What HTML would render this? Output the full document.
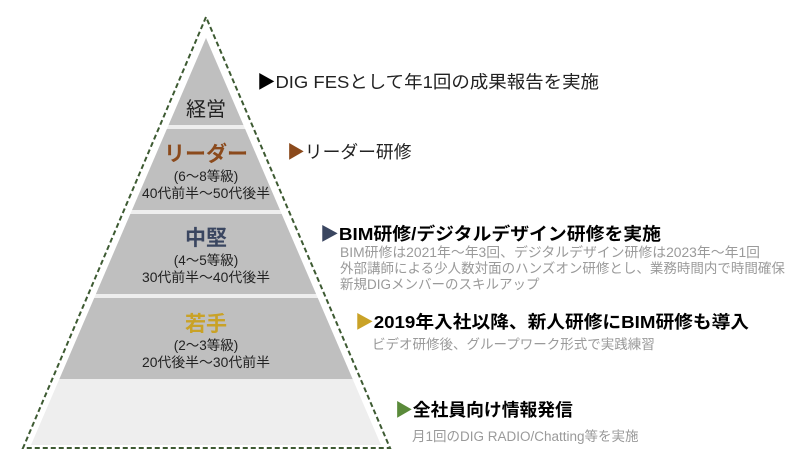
<!DOCTYPE html>
<html><head><meta charset="utf-8"><style>
html,body{margin:0;padding:0;background:#fff;width:811px;height:465px;overflow:hidden}
text{font-family:"Liberation Sans","Noto Sans CJK JP",sans-serif}
</style></head><body>
<svg width="811" height="465" viewBox="0 0 811 465" xmlns="http://www.w3.org/2000/svg">
<defs><clipPath id="c"><polygon points="206,38 31,445 381,445"/></clipPath></defs>
<g clip-path="url(#c)">
<rect x="0" y="0" width="811" height="465" fill="#eeeeee"/>
<rect x="0" y="38" width="811" height="87" fill="#bfbfbf"/>
<rect x="0" y="129" width="811" height="81" fill="#bfbfbf"/>
<rect x="0" y="214" width="811" height="80" fill="#bfbfbf"/>
<rect x="0" y="298" width="811" height="81" fill="#bfbfbf"/>
</g>
<polygon points="206,17 23,448 390,448" fill="none" stroke="#3d5a32" stroke-width="2" stroke-dasharray="5,3"/>
<g text-anchor="middle" fill="#222">
<text x="206" y="116" font-size="20">経営</text>
<text x="206" y="161" font-size="21" fill="#8b4a1c" font-weight="bold">リーダー</text>
<text x="206" y="181" font-size="13.5">(6〜8等級)</text>
<text x="206" y="198" font-size="13.5" textLength="128" lengthAdjust="spacingAndGlyphs">40代前半〜50代後半</text>
<text x="206" y="245" font-size="21" fill="#3a4660" font-weight="bold">中堅</text>
<text x="206" y="265" font-size="13.5">(4〜5等級)</text>
<text x="206" y="282" font-size="13.5" textLength="128" lengthAdjust="spacingAndGlyphs">30代前半〜40代後半</text>
<text x="206" y="331" font-size="21" fill="#c9a227" font-weight="bold">若手</text>
<text x="206" y="350" font-size="13.5">(2〜3等級)</text>
<text x="206" y="367" font-size="13.5" textLength="128" lengthAdjust="spacingAndGlyphs">20代後半〜30代前半</text>
</g>
<g font-size="17.8" fill="#222">
<text x="257" y="88" textLength="342" lengthAdjust="spacingAndGlyphs"><tspan fill="#000">▶</tspan>DIG FESとして年1回の成果報告を実施</text>
<text x="287" y="158"><tspan fill="#8b4a1c">▶</tspan>リーダー研修</text>
<text x="320" y="240" font-weight="bold" fill="#000" textLength="341" lengthAdjust="spacingAndGlyphs"><tspan fill="#3a4660">▶</tspan>BIM研修/デジタルデザイン研修を実施</text>
<text x="355" y="328" font-weight="bold" fill="#000" textLength="394" lengthAdjust="spacingAndGlyphs"><tspan fill="#c9a227">▶</tspan>2019年入社以降、新人研修にBIM研修も導入</text>
<text x="395" y="416" font-weight="bold" fill="#000"><tspan fill="#5a8a3a">▶</tspan>全社員向け情報発信</text>
</g>
<g font-size="13.5" fill="#9a9a9a">
<text x="340" y="257" textLength="420" lengthAdjust="spacingAndGlyphs">BIM研修は2021年〜年3回、デジタルデザイン研修は2023年〜年1回</text>
<text x="340" y="273">外部講師による少人数対面のハンズオン研修とし、業務時間内で時間確保</text>
<text x="340" y="289">新規DIGメンバーのスキルアップ</text>
<text x="372" y="349">ビデオ研修後、グループワーク形式で実践練習</text>
<text x="412" y="441">月1回のDIG RADIO/Chatting等を実施</text>
</g>
</svg>
</body></html>
